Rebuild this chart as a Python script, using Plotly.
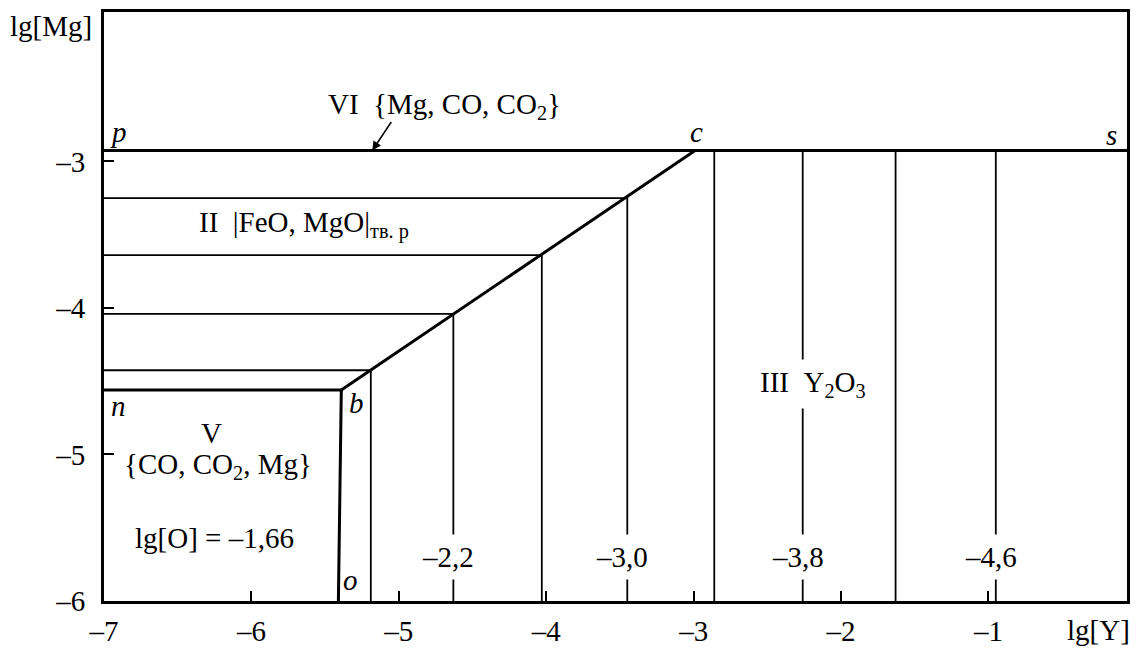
import plotly.graph_objects as go

# boundary points of the diagram (lg[Y], lg[Mg])
p_pt = (-7.0, -2.925)
c_pt = (-2.99, -2.925)
s_pt = (-0.06, -2.925)
n_pt = (-7.0, -4.56)
b_pt = (-5.39, -4.56)
o_pt = (-5.41, -6.0)

# isolines of lg[O] inside field II / III (corner on line b-c)
iso_mg = [-4.425, -4.04, -3.64, -3.25]
iso_y = [-5.19, -4.63, -4.03, -3.45]
# isolines of lg[O] right of point c
iso_y_right = [-2.86, -2.26, -1.63, -0.95]

iso_labels = ['–2,2', '–3,0', '–3,8', '–4,6']
iso_label_x = [-4.63, -3.45, -2.26, -0.95]
iso_label_y = -5.70

x_ticks = [-7, -6, -5, -4, -3, -2, -1]
x_ticktext = ['–7', '–6', '–5', '–4', '–3', '–2', '–1']
y_ticks = [-6, -5, -4, -3]
y_ticktext = ['–6', '–5', '–4', '–3']

FONT = 'Liberation Serif'
FS = 29

fig = go.Figure()

# thin isolines
xs, ys = [], []
for xm, ym in zip(iso_y, iso_mg):
    xs += [p_pt[0], xm, xm, None]
    ys += [ym, ym, o_pt[1], None]
for xr in iso_y_right:
    xs += [xr, xr, None]
    ys += [c_pt[1], o_pt[1], None]
fig.add_trace(go.Scatter(x=xs, y=ys, mode='lines', line=dict(color='black', width=1.8),
                         showlegend=False, hoverinfo='skip'))

# thick boundaries p-s, n-b-o, b-c
fig.add_trace(go.Scatter(
    x=[p_pt[0], s_pt[0], None, n_pt[0], b_pt[0], o_pt[0], None, b_pt[0], c_pt[0]],
    y=[p_pt[1], s_pt[1], None, n_pt[1], b_pt[1], o_pt[1], None, b_pt[1], c_pt[1]],
    mode='lines', line=dict(color='black', width=3), showlegend=False, hoverinfo='skip'))

ann = []


def label(x, y, text, italic=False, bg=False, xshift=0):
    t = f'<i>{text}</i>' if italic else text
    a = dict(x=x, y=y, text=t, showarrow=False, xshift=xshift,
             font=dict(family=FONT, size=FS, color='black'))
    if bg:
        a.update(bgcolor='white', borderpad=6)
    ann.append(a)


label(-6.905, -2.80, 'p', italic=True)
label(-2.98, -2.80, 'c', italic=True)
label(-0.166, -2.82, 's', italic=True)
label(-6.905, -4.67, 'n', italic=True)
label(-5.285, -4.65, 'b', italic=True)
label(-5.33, -5.86, 'o', italic=True)
label(-4.69, -2.62, 'VI\u00a0\u00a0{Mg, CO, CO<sub>2</sub>}')
label(-5.64, -3.43, 'II\u00a0\u00a0|FeO, MgO|<sub>тв. р</sub>')
label(-6.27, -4.85, 'V')
label(-6.23, -5.08, '{CO, CO<sub>2</sub>, Mg}')
label(-6.25, -5.57, 'lg[O] = –1,66')
label(-2.19, -4.52, 'III\u00a0\u00a0Y<sub>2</sub>O<sub>3</sub>', bg=True)
for t, x in zip(iso_labels, iso_label_x):
    label(x, iso_label_y, t, bg=True, xshift=-5)

# arrow pointing to line p-s
ann.append(dict(x=-5.18, y=p_pt[1], ax=20, ay=-30, text='', showarrow=True,
                arrowhead=2, arrowsize=1.2, arrowwidth=1.5, arrowcolor='black'))

# axis titles
ann.append(dict(xref='paper', yref='paper', x=-0.052, y=0.976, text='lg[Mg]', showarrow=False,
                xanchor='center', yanchor='middle',
                font=dict(family=FONT, size=FS, color='black')))
ann.append(dict(xref='paper', yref='paper', x=0.972, y=-0.049, text='lg[Y]', showarrow=False,
                xanchor='center', yanchor='middle',
                font=dict(family=FONT, size=FS, color='black')))

axis_style = dict(showgrid=False, zeroline=False, showline=True, linewidth=3, linecolor='black',
                  mirror=True, ticks='inside', ticklen=10, tickwidth=2, tickcolor='black',
                  tickfont=dict(family=FONT, size=FS, color='black'))

fig.update_xaxes(range=[-7, -0.06], tickvals=x_ticks, ticktext=x_ticktext,
                 ticklabelstandoff=2, **axis_style)
fig.update_yaxes(range=[-6, -1.98], tickvals=y_ticks, ticktext=y_ticktext,
                 ticklabelstandoff=10, **axis_style)
# page body adds 8px offset, so the figure is 8px smaller than the window
fig.update_layout(
    width=1131, height=646,
    margin=dict(l=96, r=12, t=1, b=53),
    plot_bgcolor='white', paper_bgcolor='white',
    annotations=ann, showlegend=False,
)

fig.write_html('out.html')
